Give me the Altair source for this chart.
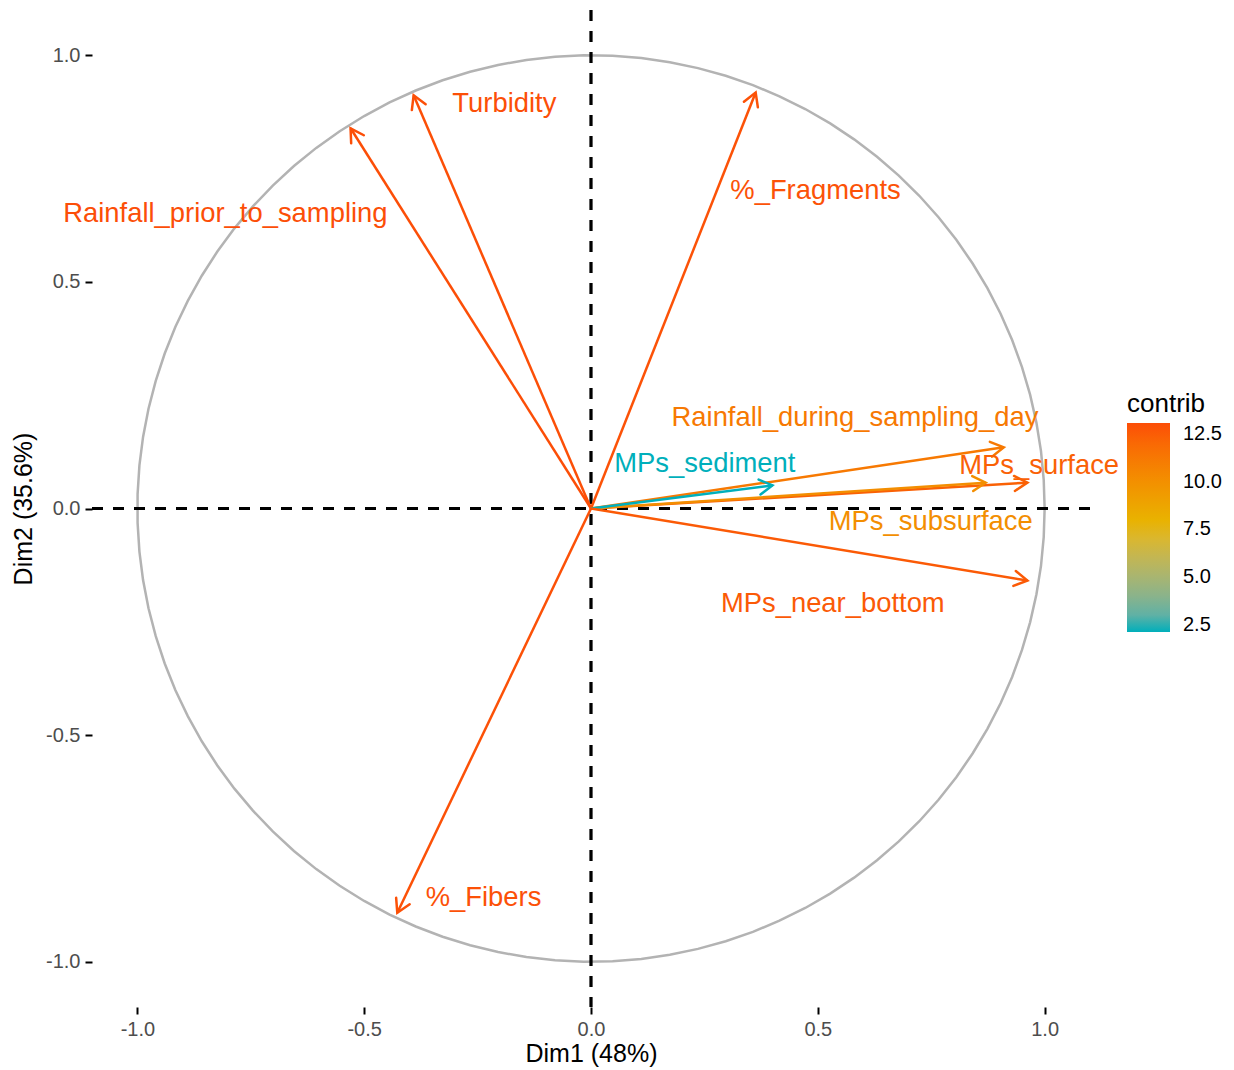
import altair as alt
import pandas as pd
import numpy as np

# ---- data ----
variables = ["Turbidity", "Rainfall_prior_to_sampling", "%_Fragments",
             "Rainfall_during_sampling_day", "MPs_surface", "MPs_subsurface",
             "MPs_sediment", "MPs_near_bottom", "%_Fibers"]
dim1 = [-0.391, -0.530, 0.363, 0.910, 0.962, 0.870, 0.400, 0.962, -0.427]
dim2 = [0.912, 0.839, 0.918, 0.135, 0.057, 0.057, 0.051, -0.159, -0.892]
contrib = [13.05, 13.09, 12.96, 11.24, 12.34, 10.10, 2.11, 12.63, 12.99]
label_x = [-0.191, -0.806, 0.495, 0.582, 0.988, 0.749, 0.251, 0.533, -0.237]
label_y = [0.892, 0.649, 0.700, 0.199, 0.093, -0.029, 0.099, -0.210, -0.859]

tick_values = [-1.0, -0.5, 0.0, 0.5, 1.0]
legend_values = [2.5, 5.0, 7.5, 10.0, 12.5]
gradient_cols = ["#00AFBB", "#E7B800", "#FC4E07"]

df = pd.DataFrame({"variable": variables, "dim1": dim1, "dim2": dim2,
                   "contrib": contrib, "lx": label_x, "ly": label_y})

# unit correlation circle (reference geometry)
t = np.linspace(0, 2 * np.pi, 100)
circle = pd.DataFrame({"cx": np.cos(t), "cy": np.sin(t), "i": np.arange(100)})

xs = alt.Scale(domain=[-1.1, 1.1], nice=False, zero=False)
ys = alt.Scale(domain=[-1.1, 1.1], nice=False, zero=False)
cmin, cmax = min(contrib), max(contrib)
cmid = (cmin + cmax) / 2

# scale carrying the legend (text labels)
legend_scale = alt.Scale(domain=[cmin, cmid, cmax], range=gradient_cols,
                         interpolate="lab")
# same mapping for the arrows, written so that its legend stays separate
stroke_scale = alt.Scale(domain=[cmin, cmax], domainMid=cmid, range=gradient_cols,
                         interpolate="lab")

hyphen_expr = "(datum.value < 0 ? '-' : '') + format(abs(datum.value), '.1f')"
xaxis = alt.Axis(values=tick_values, labelExpr=hyphen_expr, title="Dim1 (48%)",
                 labelPadding=5, titlePadding=2)
yaxis = alt.Axis(values=tick_values, labelExpr=hyphen_expr, title="Dim2 (35.6%)",
                 labelPadding=5, titlePadding=9)

legend = alt.Legend(type="gradient", values=legend_values, format=".1f",
                    orient="none", legendX=1035, legendY=381,
                    direction="vertical",
                    gradientLength=209, gradientThickness=43,
                    titleFontSize=26, titleFontWeight="normal",
                    titleColor="black", titlePadding=6,
                    labelFontSize=20, labelColor="black",
                    labelOffset=13, labelOverlap=False)

stroke_enc = alt.Stroke("contrib:Q", scale=stroke_scale, legend=None)

circ = alt.Chart(circle).mark_line(color="#B3B3B3", strokeWidth=2.5).encode(
    x=alt.X("cx:Q", scale=xs, axis=xaxis),
    y=alt.Y("cy:Q", scale=ys, axis=yaxis),
    order="i:Q")

vline = alt.Chart(df).mark_rule(color="black", strokeWidth=2.2,
                                strokeDash=[11, 10]).encode(x=alt.datum(0))
hline = alt.Chart(df).mark_rule(color="black", strokeWidth=2.2,
                                strokeDash=[11, 10]).encode(y=alt.datum(0))

shafts = alt.Chart(df).transform_calculate(x0="0", y0="0").mark_rule(
    strokeWidth=2.5).encode(
    x="x0:Q", y="y0:Q", x2="dim1:Q", y2="dim2:Q", stroke=stroke_enc)

heads = alt.Chart(df).transform_calculate(
    ang="(atan2(datum.dim1, datum.dim2) * 180 / PI + 360) % 360"
).mark_point(shape="M -0.5 0.866 L 0 0 L 0.5 0.866", filled=False, size=900,
             strokeWidth=2.5, opacity=1, strokeCap="round").encode(
    x="dim1:Q", y="dim2:Q", angle=alt.Angle("ang:Q", scale=None),
    stroke=stroke_enc)

labels = alt.Chart(df).mark_text(fontSize=27.4, align="center",
                                 baseline="middle").encode(
    x="lx:Q", y="ly:Q", text="variable:N",
    color=alt.Color("contrib:Q", scale=legend_scale, title="contrib",
                    legend=legend))

chart = alt.layer(circ, vline, hline, shafts, heads, labels).properties(
    width=998, height=997,
    autosize=alt.AutoSizeParams(type="none"),
    padding={"left": 84, "top": 2, "right": 136, "bottom": 60},
).configure(font="Liberation Sans", background="white").configure_view(
    stroke=None
).configure_axis(
    grid=False, domain=False, ticks=True, tickColor="black", tickSize=7,
    tickWidth=2, labelFontSize=20, labelColor="#4D4D4D",
    titleFontSize=25, titleFontWeight="normal", titleColor="black"
)

chart.save("out.html", embed_options={"renderer": "svg", "actions": False})
